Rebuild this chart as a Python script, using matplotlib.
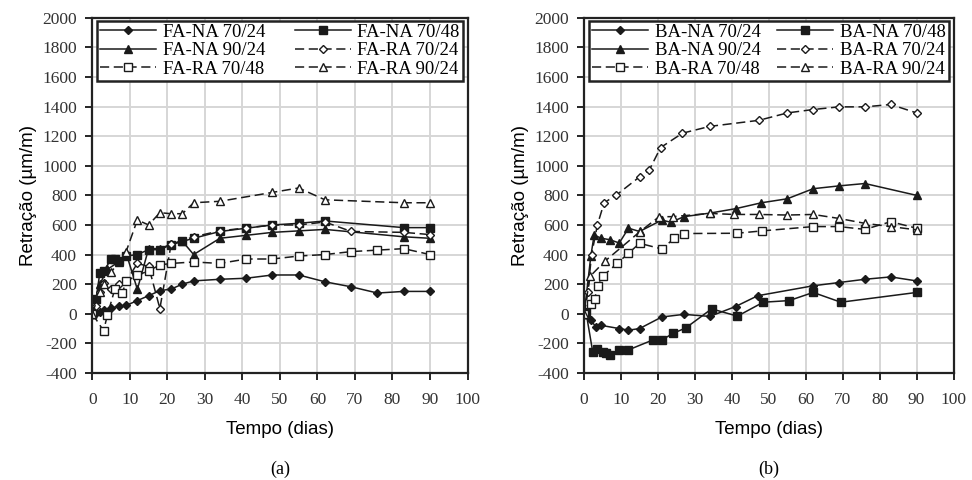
import matplotlib
matplotlib.use("Agg")
import matplotlib.pyplot as plt

plt.rcParams["axes.unicode_minus"] = False

# ---- dados (a): FA ----
fa_na_70_24_t = [0, 1, 2, 3, 5, 7, 9, 12, 15, 18, 21, 24, 27, 34, 41, 48, 55, 62, 69, 76, 83, 90]
fa_na_70_24_v = [0, 5, 15, 25, 40, 50, 56, 89, 122, 156, 167, 200, 222, 233, 240, 262, 262, 216, 182, 140, 151, 151]

fa_na_70_48_t = [0, 1, 2, 3, 5, 6, 7, 9, 12, 15, 18, 21, 24, 27, 34, 41, 48, 55, 62, 83, 90]
fa_na_70_48_v = [0, 100, 278, 289, 367, 370, 356, 390, 400, 433, 433, 467, 489, 510, 556, 578, 600, 611, 627, 582, 582]

fa_na_90_24_t = [0, 1, 2, 4, 7, 9, 12, 15, 18, 21, 24, 27, 34, 41, 48, 55, 62, 83, 90]
fa_na_90_24_v = [0, 100, 200, 300, 350, 410, 165, 440, 440, 470, 490, 400, 510, 530, 550, 560, 570, 520, 510]

fa_ra_70_24_t = [0, 1, 2, 3, 5, 7, 9, 12, 15, 18, 21, 27, 34, 41, 48, 55, 62, 69, 83, 90]
fa_ra_70_24_v = [0, 50, 150, 210, 170, 200, 220, 340, 320, 35, 470, 520, 560, 580, 600, 600, 620, 556, 550, 535]

fa_ra_70_48_t = [0, 3, 4, 6, 8, 9, 12, 15, 18, 21, 27, 34, 41, 48, 55, 62, 69, 76, 83, 90]
fa_ra_70_48_v = [0, -115, -10, 167, 140, 220, 260, 290, 330, 340, 350, 340, 370, 370, 390, 400, 420, 430, 440, 400]

fa_ra_90_24_t = [0, 2, 3, 5, 9, 12, 15, 18, 21, 24, 27, 34, 48, 55, 62, 83, 90]
fa_ra_90_24_v = [0, 150, 200, 280, 420, 634, 600, 683, 676, 676, 750, 760, 820, 850, 770, 750, 750]

# ---- dados (b): BA ----
ba_na_70_24_t = [0, 0.5, 1.8, 3.2, 4.5, 9.5, 12, 15, 21, 27, 34, 41, 47, 62, 69, 76, 83, 90]
ba_na_70_24_v = [0, 11, -44, -89, -78, -100, -111, -100, -22, -4, -18, 49, 122, 189, 211, 233, 249, 222]

ba_na_70_48_t = [0, 0.5, 2.3, 3.6, 5, 6, 7, 9.5, 12, 18.5, 21, 24, 27.5, 34.5, 41.5, 48.5, 55.5, 62, 69.5, 90]
ba_na_70_48_v = [0, 11, -256, -240, -256, -267, -278, -244, -244, -178, -178, -133, -96, 33, -16, 78, 89, 144, 78, 144]

ba_na_90_24_t = [0, 1.8, 2.7, 4.5, 7, 9.5, 12, 15, 21, 23.5, 27, 34, 41, 48, 55, 62, 69, 76, 90]
ba_na_90_24_v = [0, 389, 533, 511, 500, 478, 578, 556, 633, 618, 656, 680, 710, 750, 777, 845, 864, 880, 800]

ba_ra_70_24_t = [0, 1, 2, 3.6, 5.4, 8.6, 15, 17.6, 20.7, 26.6, 34, 47.3, 55, 62, 69, 76, 83, 90]
ba_ra_70_24_v = [0, 150, 400, 602, 750, 800, 925, 970, 1123, 1220, 1266, 1307, 1357, 1380, 1398, 1398, 1414, 1357]

ba_ra_70_48_t = [0, 1.9, 2.8, 3.7, 5, 9, 12, 15, 21, 24.4, 27, 41.4, 48.2, 62, 69, 76, 83, 90]
ba_ra_70_48_v = [0, 66, 98, 187, 253, 342, 409, 476, 438, 509, 542, 544, 560, 589, 589, 570, 622, 578]

ba_ra_90_24_t = [0, 1.6, 5.6, 15, 20.3, 24, 34, 40.5, 47.3, 55, 62, 69, 76, 83, 90]
ba_ra_90_24_v = [0, 253, 355, 553, 656, 656, 678, 671, 671, 667, 671, 644, 611, 589, 567]

labels_a = ["FA-NA 70/24", "FA-NA 70/48", "FA-NA 90/24", "FA-RA 70/24", "FA-RA 70/48", "FA-RA 90/24"]
labels_b = ["BA-NA 70/24", "BA-NA 70/48", "BA-NA 90/24", "BA-RA 70/24", "BA-RA 70/48", "BA-RA 90/24"]

series_a = [(fa_na_70_24_t, fa_na_70_24_v), (fa_na_70_48_t, fa_na_70_48_v), (fa_na_90_24_t, fa_na_90_24_v),
            (fa_ra_70_24_t, fa_ra_70_24_v), (fa_ra_70_48_t, fa_ra_70_48_v), (fa_ra_90_24_t, fa_ra_90_24_v)]
series_b = [(ba_na_70_24_t, ba_na_70_24_v), (ba_na_70_48_t, ba_na_70_48_v), (ba_na_90_24_t, ba_na_90_24_v),
            (ba_ra_70_24_t, ba_ra_70_24_v), (ba_ra_70_48_t, ba_ra_70_48_v), (ba_ra_90_24_t, ba_ra_90_24_v)]

# estilo de cada série: (linha, marcador, preenchido)
estilos = [("-", "D", True), ("-", "s", True), ("-", "^", True),
           ((0, (6, 3)), "D", False), ((0, (6, 3)), "s", False), ((0, (6, 3)), "^", False)]
tamanhos = {"D": 4, "s": 5.5, "^": 5.5}

serif = "Liberation Serif"
sans = "Liberation Sans"
cor = "#1a1a1a"

fig = plt.figure(figsize=(9.72, 4.8), dpi=100)
ax_a = fig.add_axes([0.095, 0.223, 0.386, 0.740])
ax_b = fig.add_axes([0.601, 0.223, 0.380, 0.740])


def desenha(ax, series, labels, letra):
    handles = []
    for (t, v), lab, (ls, mk, cheio) in zip(series, labels, estilos):
        h, = ax.plot(t, v, linestyle=ls, marker=mk, color=cor, lw=1.1,
                     markersize=tamanhos[mk] if cheio else tamanhos[mk] + 0.5,
                     markerfacecolor=cor if cheio else "white",
                     markeredgecolor=cor, markeredgewidth=1.0, label=lab)
        handles.append(h)
    ax.set_xlim(0, 100)
    ax.set_ylim(-400, 2000)
    ax.set_xticks(range(0, 101, 10))
    ax.set_yticks(range(-400, 2001, 200))
    ax.grid(True, color="#d6d6d6", lw=1.4)
    ax.set_axisbelow(True)
    for s in ax.spines.values():
        s.set_linewidth(1.6)
        s.set_color("#222222")
    ax.tick_params(direction="out", length=5, width=1.2, labelsize=12.5)
    ax.tick_params(axis="x", pad=9)
    ax.tick_params(axis="y", pad=6)
    for lb in ax.get_xticklabels() + ax.get_yticklabels():
        lb.set_fontfamily(serif)
        lb.set_color("#333333")
    ax.set_ylabel("Retração (µm/m)", fontsize=13.5, family=sans, labelpad=4)
    ax.set_xlabel("Tempo (dias)", fontsize=13.5, family=sans, labelpad=9)
    # legenda em duas colunas, ordem por linhas
    ordem = [0, 2, 4, 1, 3, 5]
    leg = ax.legend([handles[i] for i in ordem], [labels[i] for i in ordem], ncol=2,
                    loc="upper left", bbox_to_anchor=(0.008, 0.997, 0.984, 0), mode="expand",
                    borderaxespad=0.1, prop={"family": serif, "size": 13.5}, handlelength=3.0,
                    handletextpad=0.35, columnspacing=0.6, labelspacing=0.08,
                    borderpad=0.15, fancybox=False, framealpha=1, edgecolor="#222222")
    leg.get_frame().set_linewidth(1.8)
    ax.text(0.5, -0.27, letra, transform=ax.transAxes, ha="center", va="center",
            fontsize=13, family=serif)


desenha(ax_a, series_a, labels_a, "(a)")
desenha(ax_b, series_b, labels_b, "(b)")

fig.savefig("out.png", dpi=100)
